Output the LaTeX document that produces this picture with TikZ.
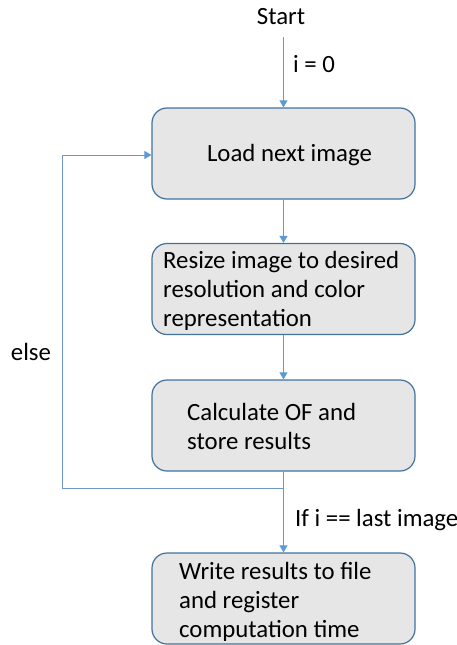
\documentclass[tikz,border=0pt]{standalone}
\usepackage{fontspec}
\setmainfont{Carlito}
\usetikzlibrary{arrows.meta}
\definecolor{flowline}{RGB}{110,150,200}
\definecolor{flowtip}{RGB}{91,155,213}
\definecolor{boxedge}{RGB}{65,113,156}
\definecolor{boxfill}{RGB}{231,230,230}
\tikzset{
  box/.style={draw=boxedge, fill=boxfill, line width=1.2pt, rounded corners=15pt,
    minimum width=263pt, minimum height=91pt, inner sep=0pt},
  txt/.style={font=\fontsize{24.8}{29}\selectfont, inner sep=0pt, align=left, text=black},
  flow/.style={draw=flowline, line width=0.9pt},
  arr/.style={flow, -{Triangle[width=8pt,length=7pt,color=flowtip]}}
}
\begin{document}
\begin{tikzpicture}[x=1pt,y=-1pt]
\useasboundingbox (0,0) rectangle (457,645);
% process boxes
\node[box] (b1) at (283.5,153.5) {};
\node[box] (b2) at (283.5,289) {};
\node[box] (b3) at (283.5,425.5) {};
\node[box] (b4) at (283.5,598.5) {};
% box texts
\node[txt] (t1) at (289.5,155) {Load next image};
\node[txt, anchor=west] (t2) at (163,291) {Resize image to desired\\resolution and color\\representation};
\node[txt, anchor=west] (t3) at (187,426) {Calculate OF and\\store results};
\node[txt, anchor=west] (t4) at (179,602) {Write results to file\\and register\\computation time};
% free labels
\node[txt] (start) at (281,17) {Start};
\node[txt, anchor=west] (init) at (293,64) {i = 0};
\node[txt] (else) at (31,352) {else};
\node[txt, anchor=west] (last) at (295,520) {If i == last image};
% connectors
\coordinate (s0) at (283.5,37);
\coordinate (split) at (283.5,488);
\coordinate (loopl) at (62,488);
\coordinate (loopt) at (62,155);
\draw[arr] (s0) -- (b1.north);
\draw[arr] (b1.south) -- (b2.north);
\draw[arr] (b2.south) -- (b3.north);
\draw[arr] (b3.south) -- (b4.north);
\draw[flow] (split) -- (loopl) -- (loopt);
\draw[arr] (loopt) -- (b1.west |- loopt);
\end{tikzpicture}
\end{document}
